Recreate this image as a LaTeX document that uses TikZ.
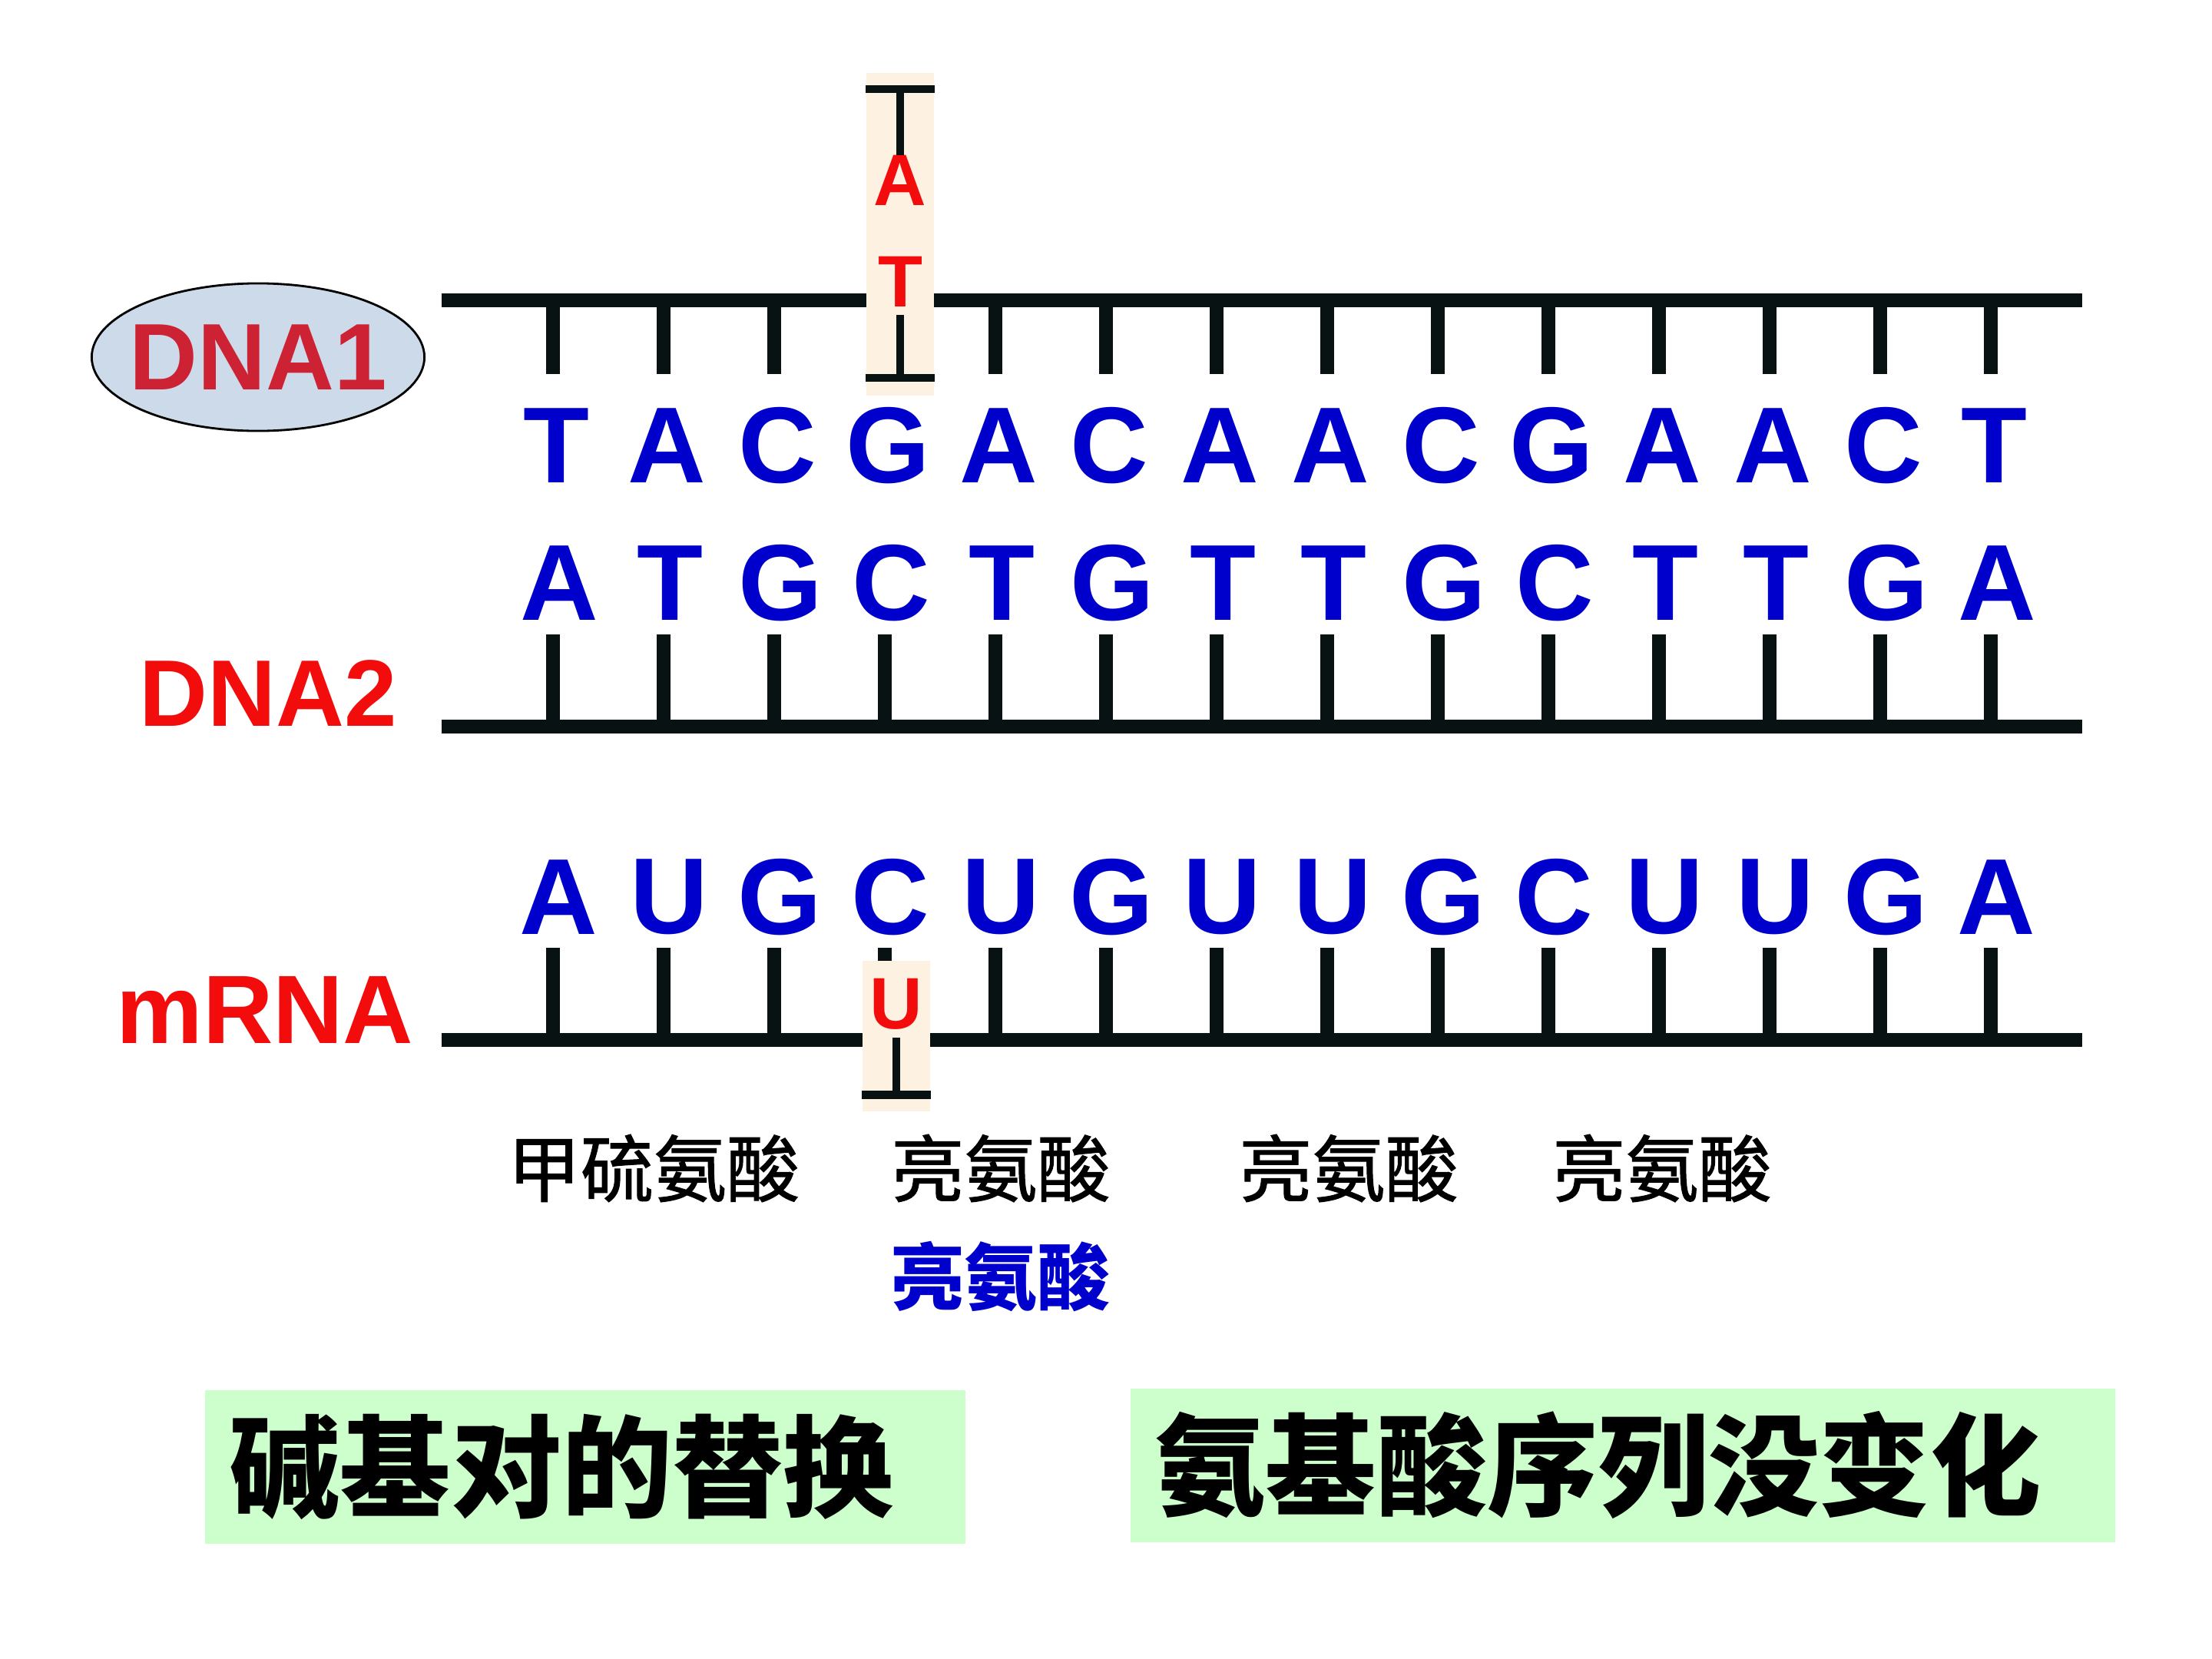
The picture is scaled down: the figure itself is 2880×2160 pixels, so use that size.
\documentclass[tikz,border=0pt]{standalone}
\usepackage{fontspec}
\setmainfont{Liberation Sans}
\newfontfamily\cjk{Noto Sans CJK SC}
\newfontfamily\cjkmid[FakeBold=1.2]{Noto Sans CJK SC}
\usetikzlibrary{positioning,shapes.geometric}
\definecolor{baseblue}{HTML}{0000CC}
\definecolor{labelred}{HTML}{F20C0C}
\definecolor{dnared}{HTML}{CC2233}
\definecolor{ovalfill}{HTML}{CCDAEA}
\definecolor{pairfill}{HTML}{FDF2E2}
\definecolor{notefill}{HTML}{CCFFCC}
\definecolor{strandink}{HTML}{081212}

\begin{document}
\begin{tikzpicture}[
    x=0.01cm, y=-0.01cm,
    base/.style={inner sep=0pt, text=baseblue, font=\fontsize{40}{40}\selectfont\bfseries},
    strand/.style={line width=5pt, strandink},
    rung/.style={line width=5pt, strandink},
    pairbar/.style={line width=3pt, strandink},
    pairbox/.style={fill=pairfill, minimum width=0.88cm, inner sep=0pt},
    mutant/.style={inner sep=0pt, text=labelred, font=\fontsize{27}{27}\selectfont\bfseries},
    tag/.style={inner sep=0pt, text=labelred, font=\fontsize{35}{35}\selectfont\bfseries},
    amino/.style={inner sep=0pt, font=\fontsize{27}{27}\selectfont\cjkmid},
    aminonew/.style={inner sep=0pt, text=baseblue, font=\fontsize{27}{27}\selectfont\cjk\bfseries},
    note/.style={fill=notefill, inner xsep=0.32cm, inner ysep=0pt, minimum height=2cm,
                 align=left, anchor=north west, font=\fontsize{41}{41}\selectfont\cjk\bfseries},
]
\useasboundingbox (0,0) rectangle (2880,2160);

% DNA1 strand
\coordinate (s1) at (575,391);
\coordinate (e1) at (2711,391);
\draw[strand] (s1) -- (e1);
\foreach \b [count=\i] in {T,A,C,G,A,C,A,A,C,G,A,A,C,T}{
  \coordinate (u\i) at ({576+144*\i},391);
  \draw[rung] (u\i) -- ++(0,96);
  \node[base] (t\i) at ({580+144*\i},580) {\b};
}

% DNA2 strand
\coordinate (s2) at (575,946);
\coordinate (e2) at (2711,946);
\draw[strand] (s2) -- (e2);
\foreach \b [count=\i] in {A,T,G,C,T,G,T,T,G,C,T,T,G,A}{
  \coordinate (v\i) at ({576+144*\i},946);
  \draw[rung] (v\i) -- ++(0,-120);
  \node[base] (c\i) at ({584+144*\i},759) {\b};
}

% mRNA strand
\coordinate (s3) at (575,1354);
\coordinate (e3) at (2711,1354);
\draw[strand] (s3) -- (e3);
\foreach \b [count=\i] in {A,U,G,C,U,G,U,U,G,C,U,U,G,A}{
  \coordinate (w\i) at ({576+144*\i},1354);
  \draw[rung] (w\i) -- ++(0,-120);
  \node[base] (m\i) at ({583+144*\i},1168) {\b};
}

% Substituted pair
\node[pairbox, minimum height=4.2cm] (pairAT) at (1172,305) {};
\node[mutant] (mutA) at (1172,235) {A};
\node[mutant] (mutT) at (1172,367) {T};
\draw[pairbar] ([yshift=-0.22cm]pairAT.north west) -- ([yshift=-0.22cm]pairAT.north east);
\draw[pairbar] ([yshift=-0.22cm]pairAT.north) -- (mutA.north);
\draw[pairbar] ([yshift=0.24cm]pairAT.south west) -- ([yshift=0.24cm]pairAT.south east);
\draw[pairbar] ([yshift=-0.1cm]mutT.south) -- ([yshift=0.24cm]pairAT.south);

\node[pairbox, minimum height=1.96cm] (pairU) at (1167,1349) {};
\node[mutant] (mutU) at (1167,1307) {U};
\draw[pairbar] ([yshift=0.22cm]pairU.south west) -- ([yshift=0.22cm]pairU.south east);
\draw[pairbar] ([yshift=-0.1cm]mutU.south) -- ([yshift=0.22cm]pairU.south);

% Labels
\node[ellipse, draw=black, line width=0.8pt, fill=ovalfill, minimum width=4.33cm,
      minimum height=1.92cm, inner xsep=-0.3cm, inner ysep=0pt, text=dnared,
      font=\fontsize{35}{35}\selectfont\bfseries] (dna1) at (336,465) {DNA1};
\node[tag] (dna2) at (349,903) {DNA2};
\node[tag, font=\fontsize{36}{36}\selectfont\bfseries] (mrna) at (345,1315) {mRNA};

% Amino acids
\node[amino] (aa1) at (851,1521) {甲硫氨酸};
\node[amino] (aa2) at (1303,1521) {亮氨酸};
\node[amino] (aa3) at (1756,1521) {亮氨酸};
\node[amino] (aa4) at (2164,1521) {亮氨酸};
\node[aminonew, below=0.5cm of aa2] (aa2new) {亮氨酸};

% Notes
\node[note, text width=9.26cm] (swap) at (266,1809) {碱基对的替换};
\node[note, text width=12.18cm] (keep) at (1471,1807) {氨基酸序列没变化};
\end{tikzpicture}
\end{document}
